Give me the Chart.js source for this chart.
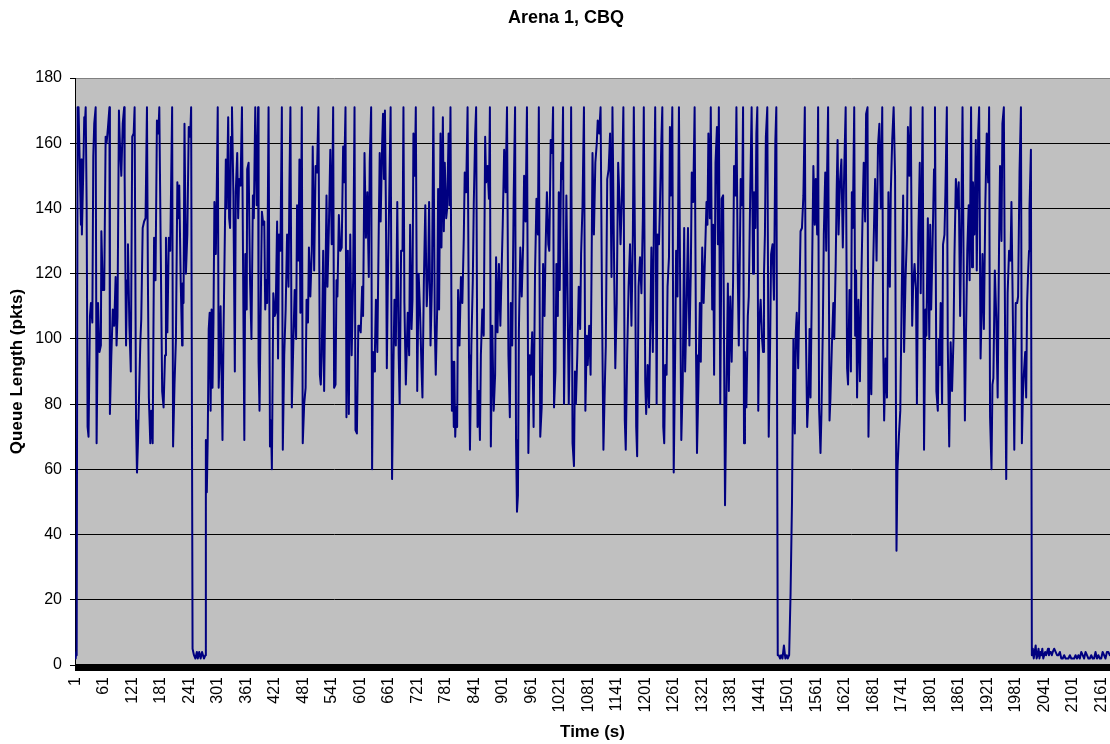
<!DOCTYPE html>
<html>
<head>
<meta charset="utf-8">
<script src="https://cdn.jsdelivr.net/npm/chart.js@4.4.1/dist/chart.umd.min.js"></script>
<style>
html,body{margin:0;padding:0;background:#ffffff;}
#wrap{width:1110px;height:744px;position:relative;}
</style>
</head>
<body>
<div id="wrap"><canvas id="c" width="1110" height="744"></canvas></div>
<script>
const chartTitle = 'Arena 1, CBQ';
const xAxisTitle = 'Time (s)';
const yAxisTitle = 'Queue Length (pkts)';
const tickLabels = [1,61,121,181,241,301,361,421,481,541,601,661,721,781,841,901,961,1021,1081,1141,1201,1261,1321,1381,1441,1501,1561,1621,1681,1741,1801,1861,1921,1981,2041,2101,2161];
const yTickValues = [0,20,40,60,80,100,120,140,160,180];

// time (s) of each read-off sample
const times = [
1,2,3,4,6,8,13,14,15,18,20,21,23,25,27,29,32,34,37,39,41,44,46,49,52,55,56,59,62,65,67,70,73,74,77,80,83,86,88,90,93,95,98,101,104,105,108,110,112,115,118,121,124,126,129,131,133,138,140,143,146,149,152,154,156,159,161,164,167,170,173,176,178,181,184,187,190,192,195,198,
201,205,207,210,213,216,219,220,223,226,227,229,231,234,237,240,243,245,248,251,254,257,259,262,265,268,272,275,276,278,280,282,284,286,288,290,292,294,297,299,301,303,305,307,309,311,313,316,318,320,323,325,327,329,331,334,337,339,342,344,346,349,352,355,357,359,362,363,366,369,372,375,377,380,383,386,387,389,391,394,397,
399,401,403,405,408,411,413,415,418,421,423,426,428,430,433,436,438,441,444,447,450,452,454,457,460,463,466,468,471,473,475,478,480,483,486,488,491,493,496,499,501,504,507,510,513,516,518,520,523,525,527,530,532,535,538,541,544,546,549,551,553,556,559,562,565,567,570,572,575,577,580,583,586,589,591,594,597,
599,602,605,607,610,613,616,619,621,624,626,628,630,632,634,637,640,642,644,647,649,651,653,655,657,659,662,665,668,671,673,676,679,682,684,687,690,692,694,697,699,701,704,706,709,711,713,716,718,721,724,727,730,732,735,738,741,744,746,749,752,755,758,760,763,765,767,770,772,775,777,779,782,784,787,789,791,794,796,798,
799,801,803,805,807,810,813,816,819,821,824,827,830,832,835,838,840,843,845,848,851,853,855,858,861,864,866,869,872,874,876,879,882,885,887,890,893,896,899,901,904,907,910,913,916,918,921,924,927,929,931,933,935,938,941,944,946,949,952,955,958,960,963,966,969,972,975,977,980,983,986,989,991,994,997,
999,1002,1005,1007,1009,1012,1014,1017,1019,1021,1024,1026,1028,1030,1033,1035,1037,1040,1043,1045,1048,1051,1053,1055,1058,1061,1064,1066,1069,1072,1075,1078,1080,1083,1086,1088,1090,1093,1096,1099,1101,1104,1107,1110,1113,1116,1118,1121,1124,1127,1130,1132,1135,1138,1141,1144,1146,1149,1152,1155,1158,1160,1163,1166,1169,1172,1175,1177,1180,1182,1184,1187,1190,1193,1196,1198,
1201,1203,1206,1209,1212,1214,1217,1219,1222,1225,1227,1230,1232,1235,1237,1239,1241,1243,1246,1248,1251,1253,1255,1258,1261,1264,1266,1269,1272,1275,1277,1280,1283,1285,1288,1291,1294,1297,1299,1302,1305,1308,1310,1313,1316,1318,1321,1324,1327,1330,1332,1334,1337,1339,1342,1344,1346,1349,1352,1354,1356,1359,1362,1365,1369,1372,1375,1377,1380,1383,1386,1388,1391,1393,1396,1398,
1402,1405,1407,1409,1411,1414,1417,1419,1422,1425,1428,1430,1433,1435,1437,1439,1441,1444,1447,1449,1451,1453,1455,1458,1461,1464,1466,1469,1472,1475,1477,1480,1482,1485,1487,1490,1493,1496,1499,1501,1504,1507,1510,1513,1516,1518,1520,1523,1525,1528,1531,1534,1537,1539,1542,1545,1547,1549,1552,1555,1558,1560,1563,1565,1567,1570,1572,1575,1577,1580,1582,1584,1586,1589,1591,1594,1597,
1599,1602,1604,1606,1608,1611,1614,1617,1620,1623,1626,1628,1631,1634,1636,1638,1641,1643,1645,1647,1650,1653,1656,1659,1661,1664,1666,1669,1671,1674,1677,1680,1683,1685,1688,1691,1694,1697,1700,1702,1704,1707,1710,1713,1716,1718,1721,1724,1727,1730,1732,1735,1738,1741,1744,1746,1749,1752,1754,1757,1760,1763,1765,1768,1771,1773,1776,1779,1781,1783,1785,1788,1791,1793,1796,
1799,1801,1803,1806,1809,1811,1814,1817,1819,1821,1823,1826,1828,1831,1833,1836,1838,1841,1844,1847,1850,1852,1855,1858,1861,1864,1866,1869,1872,1874,1876,1879,1882,1884,1887,1889,1891,1894,1897,1899,1902,1904,1907,1909,1911,1914,1917,1920,1923,1925,1927,1930,1932,1934,1937,1940,1943,1946,1948,1951,1953,1956,1959,1961,1964,1967,1970,1972,1975,1978,1981,1984,1986,1989,1992,
1994,1996,1998,2001,2003,2005,2007,2009,2010,2013,2015,2017,2019,2021,2023,2025,2027,2029,2031,2033,2035,2037,2039,2041,2043,2045,2047,2049,2051,2053,2055,2057,2059,2062,2065,2068,2071,2074,2077,2080,2083,2086,2089,2092,2095,2098,2101,2104,2107,2110,2113,2116,2119,2122,2125,2128,2131,2134,2137,2140,2143,2146,2149,2152,2155,2158,2161,2164,2167,2170,2173,2176,2179
];

// queue length (pkts) at each of those times
const queueLength = [
3,2,4,3,171,171,135,155,132,152,168,165,171,141,73,70,107,111,105,156,166,171,68,111,96,98,133,115,115,162,160,165,171,77,95,109,104,119,98,107,170,160,150,166,171,150,98,118,129,104,90,162,163,171,75,59,68,99,106,134,136,137,171,118,82,68,78,68,131,118,167,163,171,127,84,79,95,131,102,131,
127,171,67,86,100,148,137,147,118,98,117,111,166,120,132,165,162,171,5,3,2,4,2,4,2,4,2,3,69,53,70,103,108,78,109,85,105,142,126,146,171,85,95,110,90,69,100,132,155,140,168,137,134,162,171,144,90,145,157,137,149,147,171,109,69,126,109,152,154,118,100,144,137,171,141,171,93,78,104,139,135,
136,109,118,111,171,67,75,60,114,107,108,136,94,132,127,171,66,95,109,132,116,148,171,79,98,115,100,141,124,155,108,171,68,80,85,112,105,128,113,127,159,121,153,151,171,89,86,95,127,84,109,144,116,134,158,129,171,85,86,118,113,138,127,128,159,148,171,76,127,77,132,95,118,171,72,71,104,
104,102,116,107,157,131,145,119,154,171,60,96,90,97,112,96,134,157,136,159,169,149,170,141,91,116,143,171,57,93,112,98,142,95,80,127,127,171,111,86,97,108,95,135,103,112,163,150,171,84,120,108,91,82,118,141,110,120,142,98,117,171,104,89,109,146,109,163,128,168,133,154,137,140,163,141,171,78,93,73,
93,70,79,73,115,98,119,111,131,151,145,171,95,66,98,118,141,163,171,73,84,69,95,109,101,162,148,153,143,171,67,104,78,89,125,102,123,104,123,135,158,145,171,95,76,111,98,143,171,69,47,52,102,128,113,129,150,136,171,65,95,89,102,73,120,143,132,171,70,79,123,107,126,145,129,
127,161,157,171,79,90,123,107,145,115,154,149,171,80,115,144,121,80,107,171,68,61,90,80,95,116,103,126,141,171,78,101,92,104,89,121,157,132,154,160,167,163,171,111,66,86,98,149,152,163,119,171,129,91,111,154,146,129,144,171,75,66,95,116,129,104,132,171,118,73,64,116,125,114,137,171,
87,77,92,79,107,128,96,132,171,80,132,129,141,161,171,73,68,92,89,116,125,165,144,171,59,95,127,113,171,107,69,87,134,90,109,134,98,121,151,142,171,95,65,86,111,93,128,111,126,142,135,163,137,171,109,135,89,154,165,129,171,80,143,144,49,84,117,84,113,93,118,153,144,171,118,98,
149,141,171,68,96,79,107,113,144,171,120,145,134,163,171,78,104,112,100,96,120,132,162,171,70,99,126,129,112,161,171,3,3,2,3,2,6,2,3,2,3,22,50,100,71,102,108,91,107,133,134,144,171,105,73,84,103,82,118,153,135,149,132,171,79,65,77,104,132,151,127,152,171,75,82,98,111,
100,123,145,161,132,148,155,128,152,171,91,86,115,90,145,134,171,101,121,82,112,87,118,141,154,136,169,171,70,100,83,116,137,149,124,159,166,140,171,98,75,94,82,145,116,145,161,171,150,35,60,70,78,113,144,96,118,132,165,150,171,104,116,123,115,80,132,154,114,141,171,66,109,101,137,
100,135,109,129,152,171,84,78,100,92,111,80,129,132,145,171,98,67,99,84,100,125,149,140,148,107,129,171,107,75,98,127,141,118,171,122,148,132,161,121,163,171,94,107,126,103,141,163,148,171,76,60,86,88,121,107,82,130,153,130,166,171,91,57,114,127,124,142,107,66,111,111,113,151,171,
68,82,89,96,82,111,120,127,140,158,3,5,2,4,6,2,3,5,2,4,3,5,2,3,4,3,4,5,3,4,4,3,4,5,4,3,3,4,2,2,3,2,2,2,3,2,2,2,3,2,3,2,4,3,2,4,3,2,2,3,2,2,4,2,3,2,2,4,3,2,4,4,3
];

const FONT = '"Liberation Sans", Arial, Helvetica, sans-serif';

const plotBackground = {
  id: 'plotBackground',
  beforeDraw(chart) {
    const {ctx, chartArea: a} = chart;
    ctx.save();
    ctx.fillStyle = '#ffffff';
    ctx.fillRect(0, 0, chart.width, chart.height);
    ctx.fillStyle = '#C0C0C0';
    ctx.fillRect(a.left, a.top, a.right - a.left, a.bottom - a.top);
    ctx.restore();
  }
};

// dense per-category tick marks of the original form a solid black band under the axis
const axisBand = {
  id: 'axisBand',
  afterDraw(chart) {
    const {ctx, chartArea: a} = chart;
    ctx.save();
    ctx.fillStyle = '#000000';
    ctx.fillRect(a.left, a.bottom - 1, a.right - a.left, 7);
    ctx.restore();
  }
};

const titlePlugin = {
  id: 'centeredTitle',
  afterDraw(chart) {
    const {ctx} = chart;
    ctx.save();
    ctx.font = 'bold 18px ' + FONT;
    ctx.fillStyle = '#000000';
    ctx.textAlign = 'center';
    ctx.textBaseline = 'middle';
    ctx.fillText(chartTitle, 566, 18);
    ctx.restore();
  }
};

new Chart(document.getElementById('c'), {
  type: 'line',
  data: {
    datasets: [{
      label: yAxisTitle,
      data: times.map((t, i) => ({x: t, y: queueLength[i]})),
      borderColor: '#000080',
      backgroundColor: '#000080',
      borderWidth: 2,
      borderJoinStyle: 'round',
      borderCapStyle: 'round',
      pointRadius: 0,
      fill: false,
      tension: 0
    }]
  },
  options: {
    responsive: false,
    animation: false,
    layout: {padding: {top: 78, left: 0, right: 0, bottom: 0}},
    plugins: {
      legend: {display: false},
      tooltip: {enabled: false},
      title: {display: false}
    },
    scales: {
      x: {
        type: 'linear',
        min: 0.5,
        max: 2179.5,
        afterBuildTicks: (s) => { s.ticks = tickLabels.map(v => ({value: v})); },
        afterFit: (s) => { s.height = 79; s.paddingLeft = 0; s.paddingRight = 0; },
        ticks: {
          autoSkip: false,
          minRotation: 90,
          maxRotation: 90,
          padding: 12,
          color: '#000000',
          font: {family: FONT, size: 16},
          callback: (v) => String(v)
        },
        grid: {display: true, drawOnChartArea: false, drawTicks: false},
        border: {display: true, color: '#000000', width: 1},
        title: {
          display: true,
          text: xAxisTitle,
          color: '#000000',
          font: {family: FONT, size: 17, weight: 'bold'},
          padding: {top: 0, bottom: 1.8}
        }
      },
      y: {
        type: 'linear',
        min: 0,
        max: 180,
        afterBuildTicks: (s) => { s.ticks = yTickValues.map(v => ({value: v})); },
        afterFit: (s) => { s.width = 75; s.paddingTop = 0; s.paddingBottom = 0; },
        ticks: {
          padding: 8,
          color: '#000000',
          font: {family: FONT, size: 16},
          callback: (v) => String(v)
        },
        grid: {
          color: (c) => (c.tick && c.tick.value === 180) ? '#808080' : '#000000',
          tickColor: '#000000',
          tickLength: 5,
          lineWidth: 1
        },
        border: {display: true, color: '#000000', width: 1},
        title: {
          display: true,
          text: yAxisTitle,
          color: '#000000',
          font: {family: FONT, size: 17, weight: 'bold'},
          padding: {top: 6.8, bottom: 0}
        }
      }
    }
  },
  plugins: [plotBackground, axisBand, titlePlugin]
});
</script>
</body>
</html>
